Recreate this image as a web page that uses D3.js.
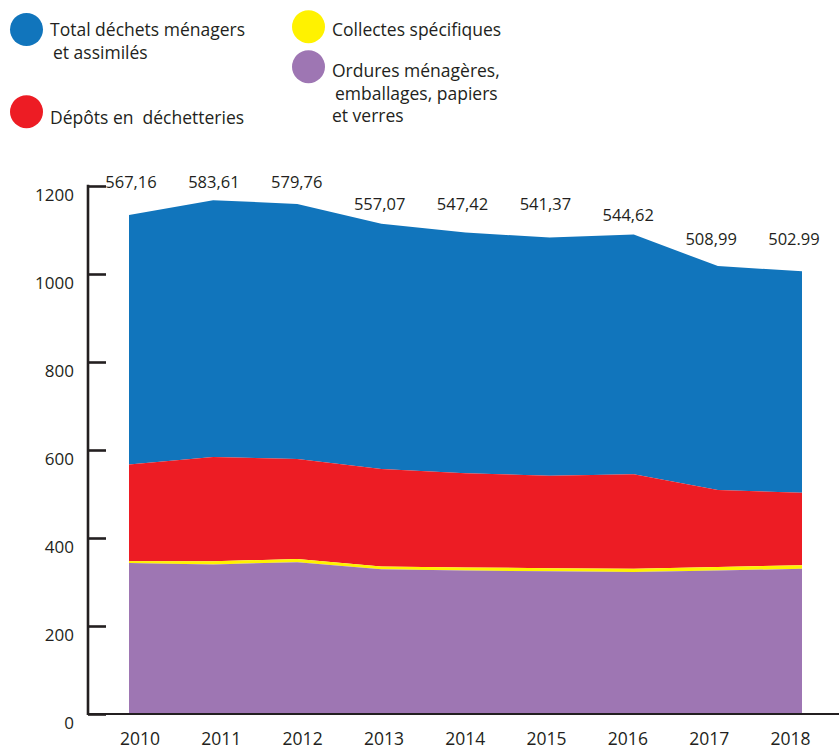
<!DOCTYPE html>
<html><head><meta charset="utf-8">
<script src="https://cdn.jsdelivr.net/npm/d3@7"></script>
<style>
html,body{margin:0;padding:0;background:#fff;}
svg{display:block;font-family:"Open Sans",sans-serif;}
</style></head>
<body><svg id="c" width="839" height="749"></svg>
<script>
const years = [2010, 2011, 2012, 2013, 2014, 2015, 2016, 2017, 2018];
const ordures = [343, 340, 345, 329, 326, 324.5, 323, 326, 330];
const collectes = [4, 7, 7.5, 6, 7, 7, 7, 8, 8];
const depots = [220, 237, 227, 222, 214, 210, 215, 175, 165];
const total = [567.16, 583.61, 579.76, 557.07, 547.42, 541.37, 544.62, 508.99, 502.99];
const totalLabels = ["567,16", "583,61", "579,76", "557,07", "547,42", "541,37", "544,62", "508,99", "502.99"];
const labelRow = [1195, 1195, 1195, 1145, 1145, 1145, 1120, 1066, 1066];
const yTicks = [0, 200, 400, 600, 800, 1000, 1200];

const seriesKeys = ["ordures", "collectes", "depots", "total"];
const colors = {ordures: "#9E76B3", collectes: "#FFF200", depots: "#ED1C24", total: "#1175BC"};
const ink = "#231f20";

const rows = years.map((yr, i) => ({year: yr, ordures: ordures[i], collectes: collectes[i], depots: depots[i], total: total[i]}));

const svg = d3.select("#c");
const x = d3.scalePoint().domain(years).range([129, 802]);
const xLab = d3.scalePoint().domain(years).range([139.5, 790]);
const xVal = d3.scalePoint().domain(years).range([131, 794]);
const y = d3.scaleLinear().domain([0, 1200]).range([714, 186]);

const stack = d3.stack().keys(seriesKeys);
const layers = stack(rows);
const area = d3.area().x(d => x(d.data.year)).y0(d => y(d[0])).y1(d => y(d[1]));

svg.append("g").selectAll("path").data(layers.slice().reverse()).join("path")
  .attr("d", area).attr("fill", d => colors[d.key]);
svg.append("path").datum(layers[1]).attr("fill", "none")
  .attr("stroke", colors.collectes).attr("stroke-width", 1.5)
  .attr("d", d3.line().x(d => x(d.data.year)).y(d => y((d[0] + d[1]) / 2)));

// y axis
const yAxis = d3.axisLeft(y).tickValues(yTicks).tickSize(-18).tickFormat(d3.format("d")).tickPadding(0);
const ga = svg.append("g").attr("transform", "translate(88,0)").call(yAxis);
ga.select(".domain").remove();
ga.selectAll(".tick line").attr("stroke", ink).attr("stroke-width", 2.6);
ga.selectAll(".tick text").attr("x", -14).attr("dy", "0.72em").attr("fill", ink)
  .style("font-size", "17px").style("font-family", "'Open Sans',sans-serif").attr("transform", "translate(0,2)");
svg.append("line").attr("x1", 88).attr("x2", 88).attr("y1", y(1200) - 1.3).attr("y2", y(0) + 1)
  .attr("stroke", ink).attr("stroke-width", 2.6);

// x axis
const xAxis = d3.axisBottom(xLab).tickSize(0).tickPadding(0);
const gx = svg.append("g").attr("transform", "translate(0,714)").call(xAxis);
gx.select(".domain").remove();
gx.selectAll(".tick text").attr("y", 30.5).attr("dy", 0).attr("fill", ink)
  .style("font-size", "17.5px").style("font-family", "'Open Sans',sans-serif");
svg.append("line").attr("x1", 88).attr("x2", 839).attr("y1", y(0)).attr("y2", y(0))
  .attr("stroke", ink).attr("stroke-width", 2);

// value labels
svg.append("g").selectAll("text").data(years).join("text")
  .attr("x", d => xVal(d)).attr("y", (d, i) => y(labelRow[i]))
  .attr("text-anchor", "middle").attr("fill", ink).style("font-size", "16.5px")
  .text((d, i) => totalLabels[i]);

// legend
const legend = [
  {key: "total", cx: 26.5, cy: 29.5, lines: [["Total déchets ménagers", 50, 35.7], ["et assimilés", 53, 59]]},
  {key: "depots", cx: 26.5, cy: 111.7, lines: [["Dépôts en  déchetteries", 50, 124]]},
  {key: "collectes", cx: 308.5, cy: 26.7, lines: [["Collectes spécifiques", 332, 35.7]]},
  {key: "ordures", cx: 308.5, cy: 66.7, lines: [["Ordures ménagères,", 332, 76.7], ["emballages, papiers", 335, 100], ["et verres", 332, 121.7]]}
];
const lg = svg.append("g");
legend.forEach(l => {
  lg.append("circle").attr("cx", l.cx).attr("cy", l.cy).attr("r", 16.5).attr("fill", colors[l.key]);
  l.lines.forEach(([t, tx, ty]) => {
    lg.append("text").attr("x", tx).attr("y", ty).attr("fill", ink).style("font-size", "17.5px")
      .style("white-space", "pre").attr("xml:space", "preserve").text(t);
  });
});
</script></body></html>
